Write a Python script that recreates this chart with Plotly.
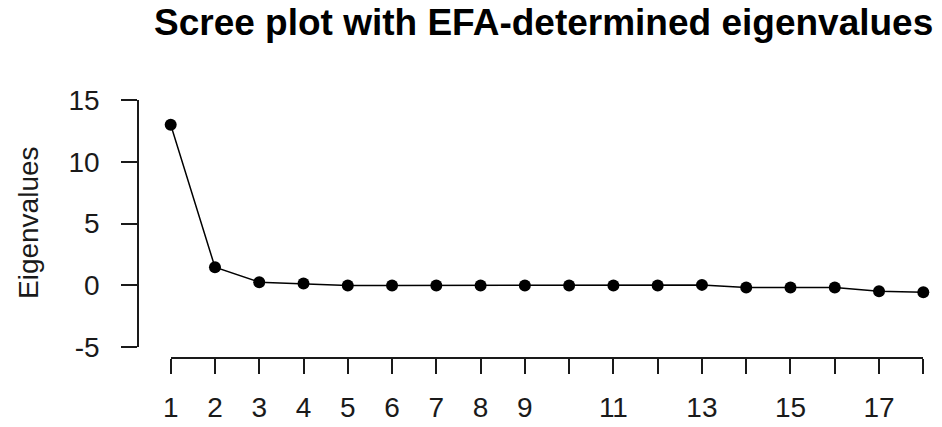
import plotly.graph_objects as go

factors = list(range(1, 19))
eigenvalues = [13.0, 1.46, 0.25, 0.14, -0.02, -0.02, -0.02, -0.02, -0.02,
               -0.02, -0.02, -0.02, 0.03, -0.18, -0.18, -0.18, -0.48, -0.57]
x_tick_vals = list(range(1, 19))
x_tick_text = ["1", "2", "3", "4", "5", "6", "7", "8", "9", "", "11", "",
               "13", "", "15", "", "17", ""]
y_tick_vals = [-5, 0, 5, 10, 15]
y_tick_text = ["-5", "0", "5", "10", "15"]

W, H = 942, 427


def px(x):
    return x / W


def py(y):
    return 1 - y / H


FONT = "Liberation Sans, Arial, sans-serif"
INK = "#1a1a1a"

fig = go.Figure()
fig.add_trace(go.Scatter(
    x=factors, y=eigenvalues, mode="lines+markers",
    line=dict(color="black", width=1.5),
    marker=dict(color="black", size=12),
    cliponaxis=False, showlegend=False, hoverinfo="skip",
))

fig.update_layout(
    width=W, height=H,
    margin=dict(l=0, r=0, t=0, b=0),
    paper_bgcolor="white", plot_bgcolor="white",
    font=dict(family=FONT, color=INK, size=28),
    xaxis=dict(
        domain=[px(170.7), px(923.3)], range=[1, 18],
        anchor="free", position=py(358),
        showgrid=False, zeroline=False, showline=True,
        linecolor=INK, linewidth=1.5,
        ticks="outside", ticklen=15, tickwidth=1.5, tickcolor=INK,
        tickvals=x_tick_vals, ticktext=x_tick_text,
        tickfont=dict(size=28), ticklabelstandoff=10, automargin=False,
    ),
    yaxis=dict(
        domain=[py(347), py(100)], range=[-5, 15],
        anchor="free", position=px(138),
        showgrid=False, zeroline=False, showline=True,
        linecolor=INK, linewidth=1.5,
        ticks="outside", ticklen=16, tickwidth=1.5, tickcolor=INK,
        tickvals=y_tick_vals, ticktext=y_tick_text,
        tickfont=dict(size=28), ticklabelstandoff=16, automargin=False,
    ),
    annotations=[
        dict(text="<b>Scree plot with EFA-determined eigenvalues</b>",
             x=px(543), y=py(22), xref="paper", yref="paper",
             xanchor="center", yanchor="middle", showarrow=False,
             font=dict(size=37, color="black", family=FONT)),
        dict(text="Eigenvalues", textangle=-90,
             x=px(28), y=py(223), xref="paper", yref="paper",
             xanchor="center", yanchor="middle", showarrow=False,
             font=dict(size=28, color=INK, family=FONT)),
    ],
)

fig.write_html("out.html",
               config={"displayModeBar": False},
               post_script="document.body.style.margin='0';")
